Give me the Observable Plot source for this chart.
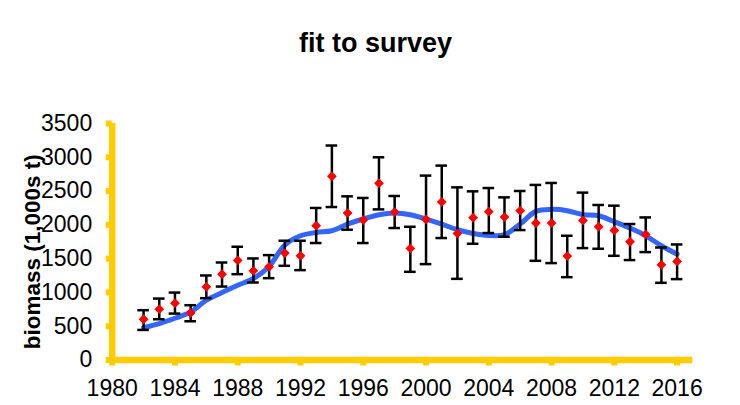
<!DOCTYPE html>
<html><head><meta charset="utf-8">
<script src="https://cdn.jsdelivr.net/npm/d3@7"></script>
<script src="https://cdn.jsdelivr.net/npm/@observablehq/plot@0.6"></script>
<style>body{margin:0;background:#fff;} svg{display:block;}</style>
</head><body><div id="chart"></div>
<script>
const years = [1982,1983,1984,1985,1986,1987,1988,1989,1990,1991,1992,1993,1994,1995,1996,1997,1998,1999,2000,2001,2002,2003,2004,2005,2006,2007,2008,2009,2010,2011,2012,2013,2014,2015,2016];
const survey = [603,752,841,697,1083,1270,1473,1320,1379,1582,1542,1987,2719,2175,2072,2615,2190,1651,2081,2339,1873,2106,2195,2116,2210,2027,2027,1538,2066,1972,1918,1750,1858,1409,1458];
const lower = [445,603,687,573,915,1087,1270,1147,1211,1394,1330,1731,2264,1928,1731,2229,1953,1305,1419,1805,1201,1720,1879,1824,1923,1468,1434,1226,1656,1646,1542,1479,1597,1142,1197];
const upper = [737,909,998,811,1251,1443,1676,1503,1552,1765,1765,2250,3174,2422,2398,3000,2427,1972,2729,2877,2555,2496,2545,2407,2501,2591,2620,1839,2477,2294,2284,2012,2110,1665,1710];
const fit = [479,539,618,710,885,998,1105,1206,1385,1701,1839,1888,1913,2012,2086,2150,2175,2150,2086,2012,1928,1873,1844,1854,2012,2199,2229,2210,2150,2135,2047,1953,1839,1691,1567];
const xTicks = [1980,1984,1988,1992,1996,2000,2004,2008,2012,2016];
const yTicks = [0,500,1000,1500,2000,2500,3000,3500];
const title = "fit to survey";
const yLabel = "biomass (1,000s t)";

const rows = years.map((year, i) => ({year, survey: survey[i], lo: lower[i], hi: upper[i], fit: fit[i]}));
const yellow = "#FFCC00";
const font = "'Liberation Sans', Arial, sans-serif";

const chart = Plot.plot({
  width: 740, height: 405,
  marginLeft: 111.7, marginRight: 47.7, marginTop: 123, marginBottom: 45.5,
  style: {fontFamily: font, background: "white", overflow: "visible", color: "black"},
  x: {domain: [1980, 2017]},
  y: {domain: [0, 3500]},
  marks: [
    Plot.axisY({ticks: yTicks, tickSize: 6, tickPadding: 14, stroke: yellow, strokeWidth: 6, fill: "black", fontSize: 23, tickFormat: "d", label: null}),
    Plot.axisX({ticks: xTicks, tickSize: 6, tickPadding: 14, stroke: yellow, strokeWidth: 6, fill: "black", fontSize: 23, tickFormat: "d", label: null}),
    Plot.ruleX([1980], {stroke: yellow, strokeWidth: 6.5}),
    Plot.ruleY([0], {stroke: yellow, strokeWidth: 6.5}),
    Plot.line(rows, {x: "year", y: "fit", stroke: "#3366FF", strokeWidth: 5, curve: "catmull-rom", strokeLinecap: "round"}),
    Plot.ruleX(rows, {x: "year", y1: "lo", y2: "hi", stroke: "black", strokeWidth: 2.5}),
    Plot.ruleY(rows, {y: "lo", x1: d => d.year - 0.37, x2: d => d.year + 0.37, stroke: "black", strokeWidth: 2.5}),
    Plot.ruleY(rows, {y: "hi", x1: d => d.year - 0.37, x2: d => d.year + 0.37, stroke: "black", strokeWidth: 2.5}),
    Plot.dot(rows, {x: "year", y: "survey", symbol: "diamond2", r: 4.4, fill: "#FF0000", stroke: "none"}),
    Plot.text([title], {frameAnchor: "top", textAnchor: "middle", lineAnchor: "middle", dx: -27, dy: -80, fontSize: 27, fontWeight: "bold", fill: "black"}),
    Plot.text([yLabel], {frameAnchor: "left", textAnchor: "middle", lineAnchor: "middle", rotate: -90, dx: -79, dy: 10, fontSize: 22.5, fontWeight: "bold", fill: "black"})
  ]
});
document.getElementById("chart").appendChild(chart);
</script>
</body></html>
